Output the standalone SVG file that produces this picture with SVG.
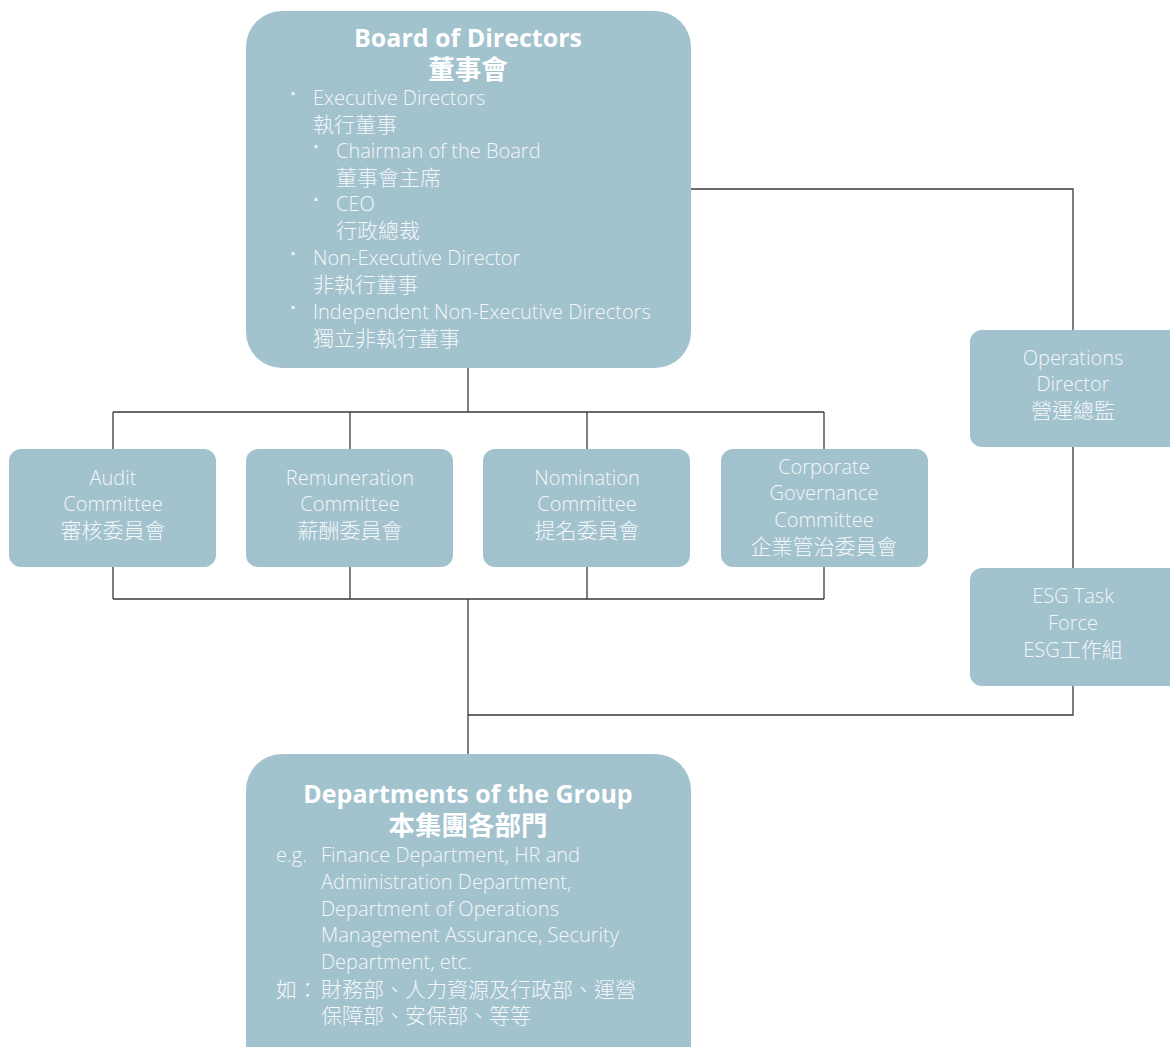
<svg xmlns="http://www.w3.org/2000/svg" width="1170" height="1047" viewBox="0 0 1170 1047">
<style>
.box{fill:#a2c2ce}
.ln{fill:none;stroke:#3a3a3a;stroke-width:1.3}
text{font-family:"Open Sans","Noto Sans CJK TC",sans-serif;fill:#f4f7f9;font-weight:300;font-size:20px}
.z{font-size:21px}
.t{font-weight:700;font-size:25px;fill:#ffffff;text-anchor:middle}
.tz{font-size:26.5px}
.c{text-anchor:middle}
.b{font-size:10px}
</style>
<rect width="1170" height="1047" fill="#ffffff"/>
<g id="connectors">
<path class="ln" d="M468 368V412M113 412H824M113 412V449M350 412V449M587 412V449M824 412V449"/>
<path class="ln" d="M113 567V599M350 567V599M587 567V599M824 567V599M113 599H824M468 599V754"/>
<path class="ln" d="M691 189H1073V330M1073 447V568M1073 686V715H468"/>
</g>
<g id="board">
<rect class="box" x="246" y="11" width="445" height="357" rx="36"/>
<text class="t" x="468" y="47">Board of Directors</text>
<text class="t tz" x="468" y="79">董事會</text>
<text class="b" x="288" y="98">▪</text>
<text x="313" y="105">Executive Directors</text>
<text class="z" x="313" y="132">執行董事</text>
<text class="b" x="311" y="151">▪</text>
<text x="336" y="158">Chairman of the Board</text>
<text class="z" x="336" y="185">董事會主席</text>
<text class="b" x="311" y="204">▪</text>
<text x="336" y="211">CEO</text>
<text class="z" x="336" y="238">行政總裁</text>
<text class="b" x="288" y="258">▪</text>
<text x="313" y="265">Non-Executive Director</text>
<text class="z" x="313" y="292">非執行董事</text>
<text class="b" x="288" y="312">▪</text>
<text x="313" y="319">Independent Non-Executive Directors</text>
<text class="z" x="313" y="346">獨立非執行董事</text>
</g>
<g id="audit">
<rect class="box" x="9" y="449" width="207" height="118" rx="12"/>
<text class="c" x="113" y="485">Audit</text>
<text class="c" x="113" y="511">Committee</text>
<text class="c z" x="113" y="538">審核委員會</text>
</g>
<g id="remuneration">
<rect class="box" x="246" y="449" width="207" height="118" rx="12"/>
<text class="c" x="350" y="485">Remuneration</text>
<text class="c" x="350" y="511">Committee</text>
<text class="c z" x="350" y="538">薪酬委員會</text>
</g>
<g id="nomination">
<rect class="box" x="483" y="449" width="207" height="118" rx="12"/>
<text class="c" x="587" y="485">Nomination</text>
<text class="c" x="587" y="511">Committee</text>
<text class="c z" x="587" y="538">提名委員會</text>
</g>
<g id="corporate">
<rect class="box" x="721" y="449" width="207" height="118" rx="12"/>
<text class="c" x="824" y="474">Corporate</text>
<text class="c" x="824" y="500">Governance</text>
<text class="c" x="824" y="527">Committee</text>
<text class="c z" x="824" y="554">企業管治委員會</text>
</g>
<g id="operations">
<rect class="box" x="970" y="330" width="215" height="117" rx="12"/>
<text class="c" x="1073" y="365">Operations</text>
<text class="c" x="1073" y="391">Director</text>
<text class="c z" x="1073" y="418">營運總監</text>
</g>
<g id="esg">
<rect class="box" x="970" y="568" width="215" height="118" rx="12"/>
<text class="c" x="1073" y="603">ESG Task</text>
<text class="c" x="1073" y="630">Force</text>
<text class="c" x="1073" y="657">ESG<tspan class="z">工作組</tspan></text>
</g>
<g id="departments">
<rect class="box" x="246" y="754" width="445" height="330" rx="36"/>
<text class="t" x="468" y="803">Departments of the Group</text>
<text class="t tz" x="468" y="835">本集團各部門</text>
<text x="276" y="862">e.g.</text>
<text x="321" y="862">Finance Department, HR and</text>
<text x="321" y="889">Administration Department,</text>
<text x="321" y="916">Department of Operations</text>
<text x="321" y="942">Management Assurance, Security</text>
<text x="321" y="969">Department, etc.</text>
<text class="z" x="276" y="997">如：</text>
<text class="z" x="321" y="997">財務部、人力資源及行政部、運營</text>
<text class="z" x="321" y="1023">保障部、安保部、等等</text>
</g>
</svg>
